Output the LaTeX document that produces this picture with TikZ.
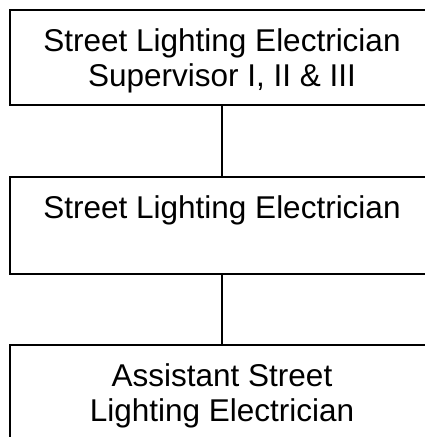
\documentclass[tikz,border=0pt]{standalone}
\usepackage{fontspec}
\setmainfont{Liberation Sans}
\begin{document}
\begin{tikzpicture}[x=1pt,y=-1pt,
  box/.style={draw=black,line width=1.8pt,rectangle,minimum width=424pt,inner sep=0pt},
  lbl/.style={anchor=north,inner sep=0pt,align=center,font=\fontsize{31.5}{35}\selectfont},
  conn/.style={draw=black,line width=1.8pt}]
\useasboundingbox (0,0) rectangle (425,437);
\clip (0,0) rectangle (425,437);
\node[box,minimum height=95pt] (b1) at (222,57.5) {};
\node[box,minimum height=97pt] (b2) at (222,225.5) {};
\node[box,minimum height=115pt] (b3) at (222,402.5) {};
\node[lbl] (t1) at (222,28) {Street Lighting Electrician\\Supervisor I, II \& III};
\node[lbl] (t2) at (222,195) {Street Lighting Electrician};
\node[lbl] (t3) at (222,363) {Assistant Street\\Lighting Electrician};
\draw[conn] (b1.south) -- (b2.north);
\draw[conn] (b2.south) -- (b3.north);
\end{tikzpicture}
\end{document}
